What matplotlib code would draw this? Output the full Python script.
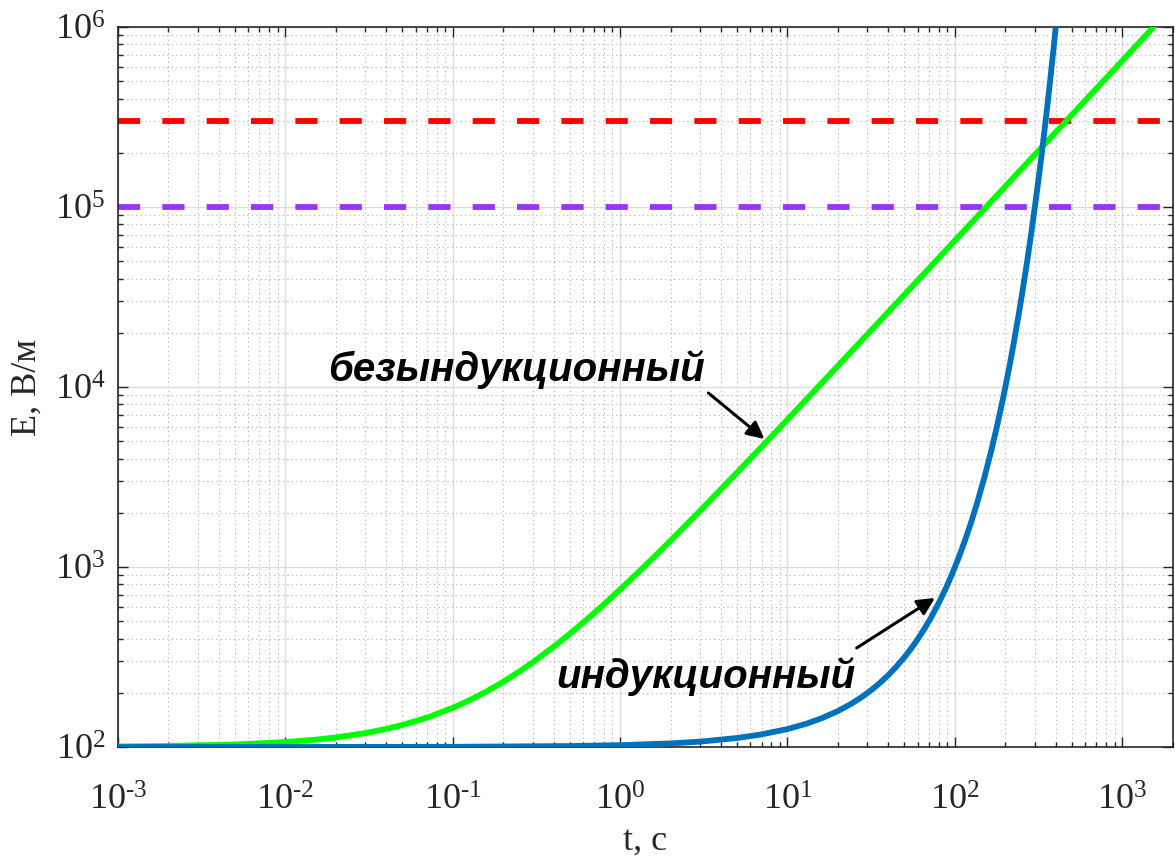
import math
import matplotlib
matplotlib.use("Agg")
import matplotlib.pyplot as plt
from matplotlib.ticker import FixedLocator, LogLocator, FuncFormatter, NullFormatter

plt.rcParams['font.family'] = ['Liberation Serif', 'DejaVu Serif']
plt.rcParams['mathtext.fontset'] = 'custom'
plt.rcParams['mathtext.rm'] = 'Liberation Serif'
plt.rcParams['mathtext.it'] = 'Liberation Serif:italic'
plt.rcParams['mathtext.bf'] = 'Liberation Serif:bold'

# безындукционный (green)
t_green = [1e-3, 2e-3, 5e-3, 1e-2, 1.5e-2, 2e-2, 3e-2, 4e-2, 5e-2, 7e-2, 0.1,
           0.13, 0.16, 0.2, 0.25, 0.3, 0.4, 0.5, 0.65, 0.8, 1, 1.3, 1.6, 2, 3,
           5, 7, 10, 20, 50, 100, 200, 500, 1000, 1600]
E_green = [100.65, 101.3, 103.25, 106.5, 109.75, 113, 119.5, 126, 132.5, 145.5,
           165, 184.5, 204, 230, 262.5, 295, 360, 425, 522.5, 620, 750, 945,
           1140, 1400, 2050, 3350, 4650, 6600, 13100, 32600, 65100, 130100,
           325100, 650100, 1040100]

# индукционный (blue)
t_blue = [1e-3, 0.01, 0.1, 0.5, 1, 2, 3, 5, 7, 10, 13, 16, 20, 24, 28, 32, 36,
          40, 45, 50, 55, 60, 66, 72, 80, 88, 96, 105, 115, 125, 137, 150, 165,
          180, 195, 210, 225, 240, 255, 270, 285, 300, 315, 330, 345, 360, 375,
          390, 405]
E_blue = [100.0, 100.02, 100.23, 101.2, 102.3, 104.7, 107.1, 112.2, 117.5,
          125.8, 134.8, 144.5, 158.4, 173.6, 190.4, 208.7, 228.8, 250.8, 281.4,
          315.6, 354.1, 397.2, 456.0, 523.4, 629.1, 756.1, 908.7, 1118, 1407,
          1770, 2332, 3144, 4439, 6269, 8848, 12490, 17630, 24990, 35170, 49610,
          70050, 98900, 139500, 196900, 278000, 392600, 554700, 783300, 1105000]

# threshold levels
E_red = 3e5
E_purple = 1e5

x_lim = (1e-3, 2e3)
y_lim = (1e2, 1e6)
x_ticks = [1e-3, 1e-2, 1e-1, 1e0, 1e1, 1e2, 1e3]
y_ticks = [1e2, 1e3, 1e4, 1e5, 1e6]

fig = plt.figure(figsize=(11.75, 8.61), dpi=100)
ax = fig.add_axes([0.1004, 0.1324, 0.8976, 0.8362])
ax.set_xscale('log')
ax.set_yscale('log')

lw = 4.2
ax.plot(t_green, E_green, color='#00ff00', lw=lw, zorder=3)
ax.plot(t_blue, E_blue, color='#0072bd', lw=lw, zorder=3)
ax.axhline(E_red, color='#ff0000', lw=lw, ls=(0, (3.8, 3.8)), zorder=2)
ax.axhline(E_purple, color='#9933ff', lw=lw, ls=(0, (3.8, 3.8)), zorder=2)

ax.set_xlim(*x_lim)
ax.set_ylim(*y_lim)

ax.xaxis.set_major_locator(FixedLocator(x_ticks))
ax.yaxis.set_major_locator(FixedLocator(y_ticks))
ax.xaxis.set_minor_locator(LogLocator(base=10, subs=range(2, 10), numticks=100))
ax.yaxis.set_minor_locator(LogLocator(base=10, subs=range(2, 10), numticks=100))


def fmt(v, pos):
    e = int(round(math.log10(v)))
    if e < 0:
        return r'$10^{\text{-}%d}$' % (-e)
    return r'$10^{%d}$' % e


ax.xaxis.set_major_formatter(FuncFormatter(fmt))
ax.yaxis.set_major_formatter(FuncFormatter(fmt))
ax.xaxis.set_minor_formatter(NullFormatter())
ax.yaxis.set_minor_formatter(NullFormatter())

ax.grid(True, which='major', color='#dcdcdc', lw=1.0, ls='-', zorder=0)
ax.grid(True, which='minor', color='#b0b0b0', lw=0.8, ls=(0, (1, 3)), zorder=0)
ax.set_axisbelow(True)

ax.tick_params(which='both', direction='in', top=True, right=True,
               color='#262626', labelcolor='#262626', labelsize=26)
ax.tick_params(which='major', length=7, width=1)
ax.tick_params(which='minor', length=3.6, width=1)
ax.tick_params(axis='x', pad=27)
ax.tick_params(axis='y', pad=9)
for s in ax.spines.values():
    s.set_color('#262626')
    s.set_linewidth(1.2)

ax.set_xlabel('t, с', fontsize=26, color='#262626', labelpad=5)
ax.set_ylabel('E, В/м', fontsize=26, color='#262626', labelpad=8)

ann_font = dict(family=['Liberation Sans', 'DejaVu Sans'], fontsize=29,
                fontweight='bold', fontstyle='italic', color='k')
ax.text(0.0181, 10800, 'безындукционный', ha='left', va='baseline', **ann_font)
ax.text(0.414, 213, 'индукционный', ha='left', va='baseline', **ann_font)

arrow = dict(arrowstyle='-|>', lw=2.2, color='k', mutation_scale=26,
             shrinkA=0, shrinkB=0)
ax.annotate('', xy=(7.28, 5140), xytext=(3.37, 9260), arrowprops=arrow)
ax.annotate('', xy=(75.9, 673), xytext=(25.9, 355), arrowprops=arrow)

fig.savefig('out.png', dpi=100)
